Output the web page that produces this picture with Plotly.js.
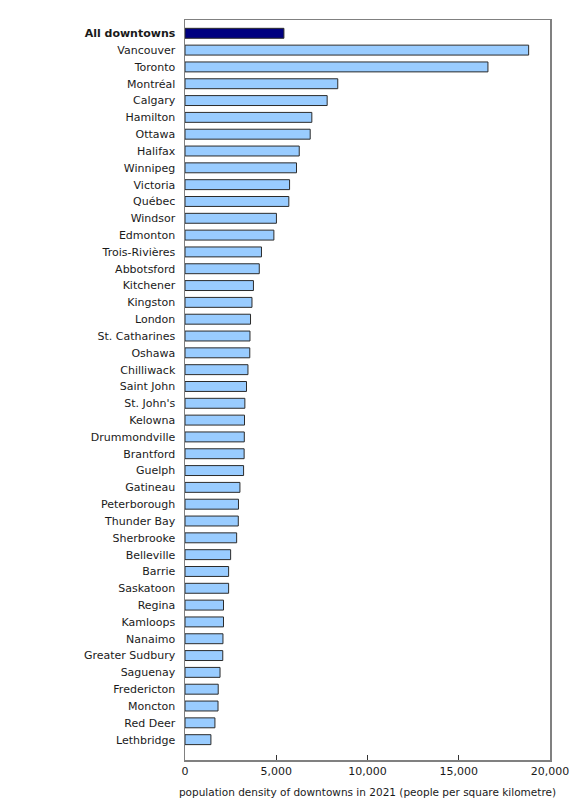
<!DOCTYPE html>
<html>
<head>
<meta charset="utf-8">
<script src="https://cdn.plot.ly/plotly-3.0.1.min.js"></script>
<style>
  html, body { margin:0; padding:0; background:#fff; }
  #chart { width:580px; height:800px; }
</style>
</head>
<body>
<div id="chart"></div>
<script>
// ---- data (people per square kilometre, 2021) ----
const places = [
  'All downtowns', 'Vancouver', 'Toronto', 'Montréal', 'Calgary', 'Hamilton',
  'Ottawa', 'Halifax', 'Winnipeg', 'Victoria', 'Québec', 'Windsor', 'Edmonton',
  'Trois-Rivières', 'Abbotsford', 'Kitchener', 'Kingston', 'London',
  'St. Catharines', 'Oshawa', 'Chilliwack', 'Saint John', "St. John's",
  'Kelowna', 'Drummondville', 'Brantford', 'Guelph', 'Gatineau',
  'Peterborough', 'Thunder Bay', 'Sherbrooke', 'Belleville', 'Barrie',
  'Saskatoon', 'Regina', 'Kamloops', 'Nanaimo', 'Greater Sudbury',
  'Saguenay', 'Fredericton', 'Moncton', 'Red Deer', 'Lethbridge'
];
const density = [
  5420, 18830, 16600, 8370, 7790, 6950,
  6860, 6260, 6110, 5730, 5690, 5010, 4870,
  4190, 4070, 3750, 3670, 3590,
  3560, 3550, 3450, 3370, 3280,
  3260, 3250, 3240, 3210, 3010,
  2930, 2920, 2830, 2500, 2390,
  2390, 2110, 2110, 2080, 2070,
  1920, 1820, 1810, 1640, 1420
];
const xTicks = [0, 5000, 10000, 15000, 20000];

// ---- styles ----
const FONT = 'DejaVu Sans, Verdana, sans-serif';
const cityColor = '#99ccff';
const totalColor = '#000080';
const frameColor = '#808080';

const barColors = places.map((p, i) => i === 0 ? totalColor : cityColor);
const tickText = places.map((p, i) => i === 0 ? '<b>' + p + '</b>' : p);

const trace = {
  type: 'bar',
  orientation: 'h',
  y: places,
  x: density,
  width: 0.59,
  marker: { color: barColors, line: { color: '#2b2b2b', width: 1 } },
  hovertemplate: '%{y}: %{x:,}<extra></extra>'
};

const layout = {
  width: 580,
  height: 800,
  margin: { l: 185, r: 30, t: 20, b: 40, autoexpand: false },
  paper_bgcolor: '#ffffff',
  plot_bgcolor: '#ffffff',
  font: { family: FONT, size: 11, color: '#1a1a1a' },
  showlegend: false,
  xaxis: {
    range: [0, 20000],
    tickvals: xTicks,
    tickformat: ',d',
    ticks: 'inside',
    ticklen: 5,
    tickcolor: '#333333',
    showgrid: false,
    zeroline: false,
    showline: true,
    linecolor: frameColor,
    linewidth: 1.5,
    mirror: true,
    automargin: false,
    title: {
      text: 'population density of downtowns in 2021 (people per square kilometre)',
      font: { family: FONT, size: 10.5, color: '#1a1a1a' },
      standoff: 12
    }
  },
  yaxis: {
    type: 'category',
    range: [43.21, -0.79],
    tickvals: places,
    ticktext: tickText,
    ticks: '',
    ticklabelstandoff: 6,
    showgrid: false,
    zeroline: false,
    showline: true,
    linecolor: frameColor,
    linewidth: 1.5,
    mirror: true,
    automargin: false
  }
};

Plotly.newPlot('chart', [trace], layout, { displayModeBar: false, staticPlot: true });
</script>
</body>
</html>
